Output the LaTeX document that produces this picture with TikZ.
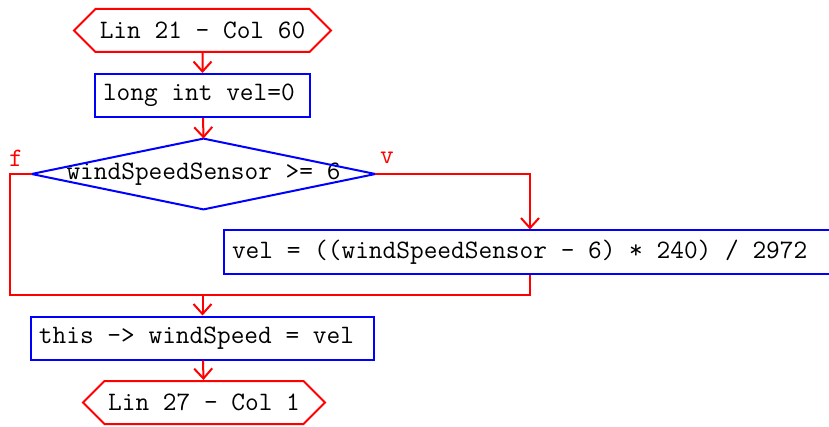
\documentclass[tikz,border=0pt]{standalone}
\usepackage{fontspec}
\newfontfamily\codefont{Latin Modern Mono}[WordSpace={1,0,0}]
\usetikzlibrary{arrows.meta,shapes.symbols}

\begin{document}
\begin{tikzpicture}[x=0.5pt, y=-0.5pt,
    font=\codefont\fontsize{13.3}{15}\selectfont,
    flow/.style={red, line width=1pt},
    arr/.style={flow, -{Straight Barb[length=5pt, width=9pt]}},
    term/.style={draw=red, line width=1pt, signal, signal to=west and east,
        signal pointer angle=90, minimum height=21.5pt, inner sep=0pt},
    stmt/.style={draw=blue, line width=1pt, minimum height=21.5pt,
        inner xsep=4pt, inner ysep=0pt}]
    \path[fill=white, use as bounding box] (0,0) rectangle (829,427);

    \node[term, minimum width=128.5pt] (S) at (202.5,30.5) {Lin 21 - Col 60};
    \node[stmt] (V) at (202.5,95.5) {\makebox[99.5pt][l]{long int vel=0}};
    \node[minimum width=171.5pt, minimum height=35pt, inner sep=0pt] (C) at (203.5,174) {windSpeedSensor >= 6};
    \draw[blue, line width=1pt] (C.west) -- (C.north) -- (C.east) -- (C.south) -- cycle;
    \node[stmt] (E) at (530,252) {\makebox[298pt][l]{vel = ((windSpeedSensor - 6) * 240) / 2972}};
    \node[stmt] (W) at (202.5,338) {\makebox[163.5pt][l]{this -> windSpeed = vel}};
    \node[term, minimum width=121pt] (T) at (204,402.5) {Lin 27 - Col 1};

    \node[red] (f) at (16,158) {f};
    \node[red] (v) at (387,158) {v};

    \coordinate (L) at (10,295);
    \coordinate (M) at (202.5,295);

    \draw[arr] (S) -- (V);
    \draw[arr] (V) -- (C.north);
    \draw[arr] (C.east) -| (E.north);
    \draw[flow] (C.west) -| (L) -- (M);
    \draw[flow] (E.south) |- (M);
    \draw[arr] (M) -- (W);
    \draw[arr] (W) -- (T);
\end{tikzpicture}
\end{document}
